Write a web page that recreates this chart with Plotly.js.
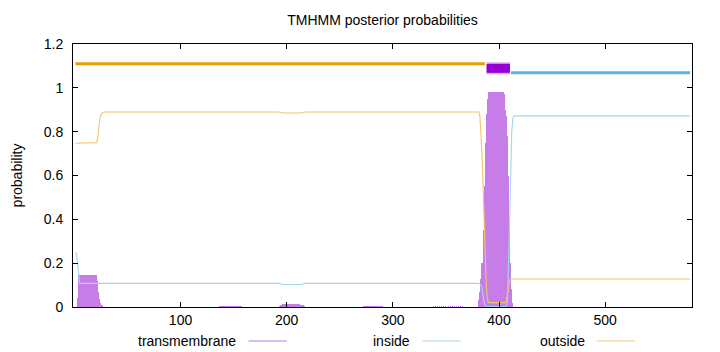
<!DOCTYPE html>
<html>
<head>
<meta charset="utf-8">
<script src="https://cdn.plot.ly/plotly-3.0.1.min.js"></script>
<style>html,body{margin:0;padding:0;background:#fff;}#chart{width:720px;height:352px;}</style>
</head>
<body>
<div id="chart"></div>
<script>
// Transmembrane posterior probability per residue (impulses)
const tmPos = [3,4,5,6,7,8,9,10,11,12,13,14,15,16,17,18,19,20,21,22,23,24,25,26,
  136,137,138,139,140,141,142,143,144,145,146,147,148,149,150,151,152,153,154,155,156,157,158,
  193,194,195,196,197,198,199,200,201,202,203,204,205,206,207,208,209,210,211,212,213,214,215,216,217,
  272,273,274,275,276,277,278,279,280,281,282,283,284,285,286,287,288,289,290,
  336,338,340,342,344,346,348,350,352,354,356,358,360,362,364,366,368,
  381,382,383,384,385,386,387,388,389,390,391,392,393,394,395,396,397,398,399,400,401,402,403,404,405,406,407,408,409,410,411,412,413];
const tmVal = [0.04,0.148,0.148,0.148,0.148,0.148,0.148,0.148,0.148,0.148,0.148,0.148,0.148,0.148,0.148,0.148,0.148,0.148,0.145,0.12,0.07,0.035,0.02,0.01,
  0.002,0.003,0.003,0.003,0.003,0.003,0.003,0.003,0.003,0.003,0.003,0.003,0.003,0.003,0.003,0.003,0.003,0.003,0.003,0.003,0.003,0.003,0.002,
  0.006,0.009,0.011,0.012,0.012,0.013,0.013,0.013,0.013,0.013,0.013,0.013,0.013,0.013,0.013,0.013,0.012,0.012,0.012,0.012,0.011,0.011,0.01,0.008,0.005,
  0.003,0.004,0.004,0.004,0.004,0.004,0.004,0.004,0.004,0.004,0.004,0.004,0.004,0.004,0.004,0.004,0.004,0.004,0.003,
  0.002,0.003,0.003,0.003,0.003,0.003,0.003,0.003,0.003,0.003,0.003,0.003,0.003,0.003,0.003,0.003,0.002,
  0.03,0.07,0.13,0.2,0.35,0.55,0.75,0.88,0.95,0.98,0.98,0.98,0.98,0.98,0.98,0.98,0.98,0.98,0.98,0.98,0.98,0.98,0.98,0.98,0.97,0.9,0.87,0.78,0.6,0.37,0.2,0.08,0.02];

// Inside probability (line breakpoints)
const inX = [1,2,3,4,5,193,196,214,217,381,383,384,385,386,387,388,407,408,409,410,411,412,413,414,580];
const inY = [0.25,0.24,0.2,0.14,0.108,0.108,0.103,0.103,0.108,0.108,0.1,0.085,0.05,0.02,0.006,0.002,0.002,0.03,0.2,0.45,0.68,0.8,0.86,0.872,0.872];

// Outside probability (line breakpoints)
const outX = [1,20,21,22,23,24,25,26,28,193,196,214,217,381,382,383,384,385,386,387,388,389,390,406,407,408,409,410,411,580];
const outY = [0.747,0.747,0.75,0.77,0.82,0.86,0.875,0.885,0.89,0.89,0.885,0.885,0.89,0.89,0.87,0.8,0.7,0.55,0.4,0.22,0.1,0.04,0.02,0.02,0.03,0.06,0.1,0.12,0.128,0.128];

// Predicted topology (top bar)
const topOutX = [1,386.7];
const topTmX = [388.3,410.3];
const topInX = [411.2,580];
const topOutY = 1.11, topTmY = 1.089, topInY = 1.069;

const xTicks = [100,200,300,400,500];
const yTicks = [0,0.2,0.4,0.6,0.8,1,1.2];
const legendNames = ['transmembrane','inside','outside'];

const cTM = '#c77de8', cIn = '#a3d6ee', cOut = '#f3c46a';
const font = 'Liberation Sans, Arial, sans-serif';

const traces = [
  {type:'bar', x:tmPos, y:tmVal, width:1, marker:{color:cTM, line:{width:0}}, hoverinfo:'skip', showlegend:false},
  {type:'scatter', mode:'lines', x:inX, y:inY, line:{color:cIn, width:1.1}, hoverinfo:'skip', showlegend:false},
  {type:'scatter', mode:'lines', x:outX, y:outY, line:{color:cOut, width:1.1}, hoverinfo:'skip', showlegend:false},
  {type:'scatter', mode:'lines', x:topOutX, y:[topOutY,topOutY], line:{color:'#e69f00', width:3}, hoverinfo:'skip', showlegend:false},
  {type:'scatter', mode:'lines', x:topTmX, y:[topTmY,topTmY], line:{color:'#dcaaf2', width:12}, hoverinfo:'skip', showlegend:false},
  {type:'scatter', mode:'lines', x:topTmX, y:[topTmY,topTmY], line:{color:'#9400d3', width:9}, hoverinfo:'skip', showlegend:false},
  {type:'scatter', mode:'lines', x:topInX, y:[topInY,topInY], line:{color:'#56b4e9', width:3}, hoverinfo:'skip', showlegend:false}
];

const px2paper = p => (p-73)/619;
const legY = (307-341)/263;
const legSpec = [
  {name:legendNames[0], textR:238, l0:248.5, l1:286.8, c:'#b47ae4'},
  {name:legendNames[1], textR:412, l0:422.6, l1:460.9, c:'#a8d4e8'},
  {name:legendNames[2], textR:587, l0:596.7, l1:635, c:'#f2ca7a'}
];
const annotations = legSpec.map(s => ({xref:'paper', yref:'paper', x:px2paper(s.textR), y:legY, xanchor:'right', yanchor:'middle', text:s.name, showarrow:false, font:{family:font, size:14, color:'#000'}}));
const shapes = legSpec.map(s => ({type:'line', xref:'paper', yref:'paper', x0:px2paper(s.l0), x1:px2paper(s.l1), y0:legY, y1:legY, line:{color:s.c, width:1}}));

const layout = {
  width:720, height:352,
  margin:{l:73, r:28, t:44, b:45},
  paper_bgcolor:'#fff', plot_bgcolor:'#fff',
  font:{family:font, size:14, color:'#000'},
  title:{text:'TMHMM posterior probabilities', x:0.5, xref:'paper', xanchor:'center', y:1-20/352, yref:'container', yanchor:'middle', font:{family:font, size:14, color:'#000'}},
  bargap:0,
  showlegend:false,
  xaxis:{range:[-1.3,581.8], tickvals:xTicks, ticktext:xTicks.map(String), ticks:'inside', ticklen:5, tickcolor:'#000', showline:true, linecolor:'#000', linewidth:1, mirror:'ticks', showgrid:false, zeroline:false, tickfont:{family:font, size:14}},
  yaxis:{range:[0,1.2], tickvals:yTicks, ticktext:yTicks.map(String), ticks:'inside', ticklen:5, tickcolor:'#000', showline:true, linecolor:'#000', linewidth:1, mirror:'ticks', showgrid:false, zeroline:false, tickfont:{family:font, size:14}, ticklabelstandoff:6,
    title:{text:'probability', standoff:17, font:{family:font, size:14}}},
  annotations:annotations,
  shapes:shapes
};

Plotly.newPlot('chart', traces, layout, {staticPlot:true, displayModeBar:false});
</script>
</body>
</html>
